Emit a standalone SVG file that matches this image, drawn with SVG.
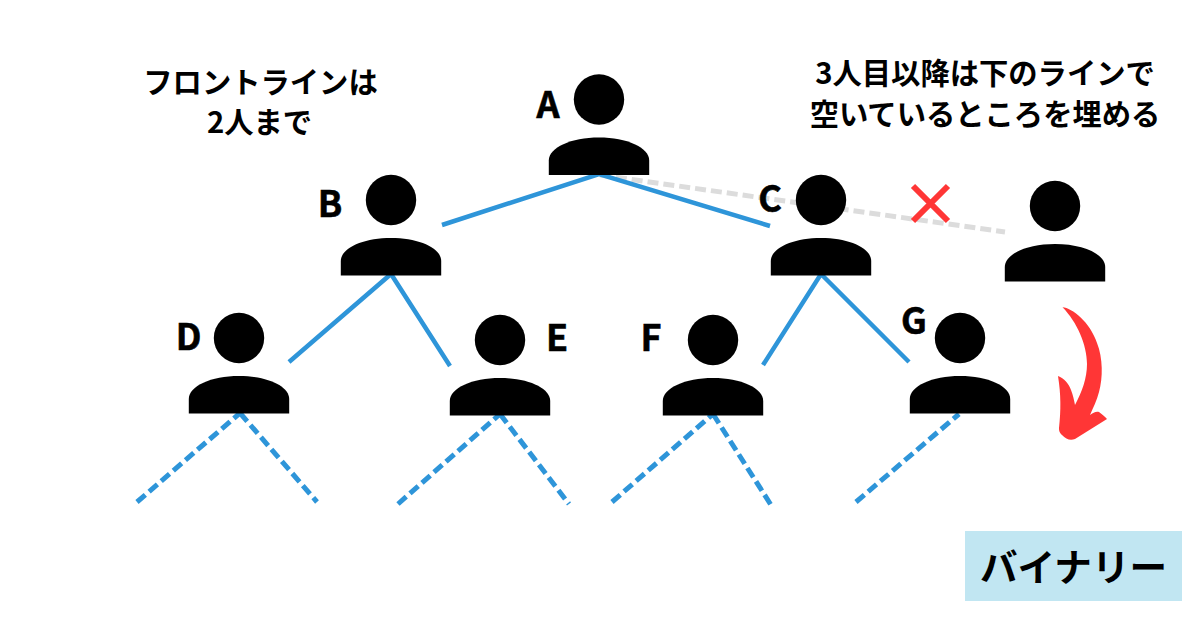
<svg xmlns="http://www.w3.org/2000/svg" width="1200" height="630" viewBox="0 0 1200 630">
<style>
text{font-family:"Noto Sans CJK JP","Noto Sans",sans-serif;font-weight:700;fill:#000}
.l{font-size:36px;text-anchor:middle;stroke:#000;stroke-width:.6px}
.t{font-size:29.300px;text-anchor:middle}
.s{fill:none;stroke:#2e95d9;stroke-width:4.500}
.d{stroke-width:5;stroke-dasharray:11 5}
.g{fill:none;stroke:#dcdcdc;stroke-width:5;stroke-dasharray:11 5}
</style>
<defs>
<g id="person">
<circle cx="0" cy="0" r="25.200"/>
<path d="M-50.200 75.500V61C-50.200 48 -28 38 0 38C28 38 50.200 48 50.200 61V75.500Z"/>
</g>
</defs>
<rect width="1200" height="630" fill="#fff"/>
<g id="connectors">
<path class="g" d="M600 175L1005 232"/>
<path class="s" d="M442 225L599 174L770 226"/>
<path class="s" d="M289 362L391 274L450 366"/>
<path class="s" d="M763 365L821 274L909 362"/>
<path class="s d" d="M137 502L240 413M240 413L317 502"/>
<path class="s d" d="M398 504L500 414M500 414L569 504"/>
<path class="s d" d="M612 502L713 414M713 414L771 505"/>
<path class="s d" d="M856 502L959 414"/>
</g>
<g id="node-a"><use href="#person" x="599" y="99.500"/><text class="l" x="548" y="117.500">A</text></g>
<g id="node-b"><use href="#person" x="391" y="200"/><text class="l" x="330" y="217">B</text></g>
<g id="node-c"><use href="#person" x="821" y="200"/><text class="l" x="770" y="212">C</text></g>
<g id="node-d"><use href="#person" x="239" y="338"/><text class="l" x="188.500" y="350">D</text></g>
<g id="node-e"><use href="#person" x="500" y="340"/><text class="l" x="557" y="351">E</text></g>
<g id="node-f"><use href="#person" x="713" y="340"/><text class="l" x="651" y="351">F</text></g>
<g id="node-g"><use href="#person" x="960" y="338"/><text class="l" x="914" y="334">G</text></g>
<g id="node-extra"><use href="#person" x="1055" y="206"/></g>
<g id="cross"><path d="M913 186L948 221M948 186L913 221" fill="none" stroke="#ff3636" stroke-width="6"/></g>
<g id="arrow"><path d="M1062.500 307.300C1072 308 1090 322 1097 343C1103 358 1103 378 1099 392C1097 400 1093 408 1090 415C1093 413 1096 411 1099 412C1102 414 1105 417 1107 419L1075 439C1070 441 1066 439 1062 435C1059 432 1059 430 1059 428C1061 410 1061 395 1058 376C1064 378 1069 384 1071 390C1073 395 1074 400 1075 405C1082 392 1087 378 1087 364C1087 345 1077 322 1062.500 307.300Z" fill="#ff3636"/></g>
<g id="note-left"><text class="t" x="260.500" y="93">フロントラインは</text><text class="t" x="259.500" y="133">2人まで</text></g>
<g id="note-right"><text class="t" x="985" y="84">3人目以降は下のラインで</text><text class="t" x="985" y="125">空いているところを埋める</text></g>
<g id="label"><rect x="965" y="531" width="217" height="70" fill="#c1e6f2"/><text x="1073.500" y="581" font-size="37.600" text-anchor="middle">バイナリー</text></g>
</svg>
